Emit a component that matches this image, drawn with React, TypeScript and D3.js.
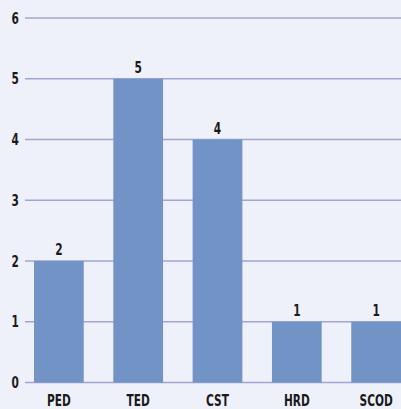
import React from "react";
import * as d3 from "d3";

const categories = ["PED", "TED", "CST", "HRD", "SCOD"];
const counts = [2, 5, 4, 1, 1];
const yTicks = [0, 1, 2, 3, 4, 5, 6];

const W = 401;
const H = 409;
const FONT = "'DejaVu Sans Condensed', 'DejaVu Sans', sans-serif";

// Bold condensed label, narrowed horizontally around its anchor point.
function Label({ x, y, text }: { x: number; y: number; text: string | number }) {
  return (
    <text
      transform={`translate(${x},${y}) scale(0.76,1)`}
      textAnchor="middle"
      fontFamily={FONT}
      fontWeight="bold"
      fontSize={15.5}
      fill="#1a1a1a"
    >
      {text}
    </text>
  );
}

export default function App() {
  const x = d3
    .scaleBand<string>()
    .domain(categories)
    .range([34, 401])
    .paddingInner(0.373)
    .paddingOuter(0);
  const y = d3.scaleLinear().domain([0, 6]).range([382.5, 18]);

  return (
    <svg
      width={W}
      height={H}
      style={{ position: "absolute", left: 0, top: 0, display: "block" }}
    >
      <rect x={0} y={0} width={W} height={H} fill="#eef1f9" />
      {yTicks.map((t) => (
        <g key={t}>
          <line
            x1={25}
            x2={W}
            y1={y(t)}
            y2={y(t)}
            stroke="#a1a5d3"
            strokeWidth={1.6}
          />
          <Label x={15.3} y={y(t) + 5.5} text={t} />
        </g>
      ))}
      {categories.map((c, i) => {
        const cx = (x(c) ?? 0) + x.bandwidth() / 2;
        return (
          <g key={c}>
            <rect
              x={x(c)}
              y={y(counts[i])}
              width={x.bandwidth()}
              height={y(0) - y(counts[i])}
              fill="#7193c6"
            />
            <Label x={cx} y={y(counts[i]) - 6} text={counts[i]} />
            <Label x={cx} y={405.5} text={c} />
          </g>
        );
      })}
    </svg>
  );
}
